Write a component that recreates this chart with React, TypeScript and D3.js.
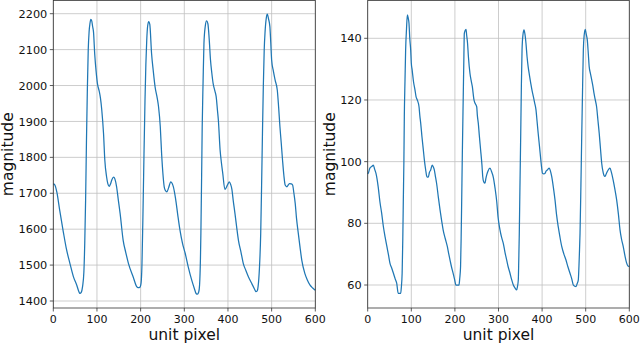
import React from "react";
import * as d3 from "d3";

const xTicks = [0, 100, 200, 300, 400, 500, 600];
const leftYTicks = [1400, 1500, 1600, 1700, 1800, 1900, 2000, 2100, 2200];
const rightYTicks = [60, 80, 100, 120, 140];

const leftSeries: [number, number][] = [[0,1726],[3,1724],[8,1704],[15,1650],[23,1592],[30,1545],[38,1505],[46,1468],[54,1443],[58,1428],[61,1421],[64,1424],[67,1440],[70,1480],[72,1560],[74,1681],[76,1850],[78,1990],[80,2099],[82,2150],[84,2173],[86,2184],[88,2180],[90,2165],[92,2150],[95,2085],[98,2040],[101,2006],[105,1985],[108,1965],[111,1932],[115,1867],[118,1792],[122,1746],[125,1726],[128,1719],[131,1726],[134,1737],[138,1745],[141,1740],[145,1718],[149,1680],[153,1644],[160,1569],[166,1535],[172,1505],[183,1467],[191,1440],[194,1437],[198,1438],[201,1450],[203,1500],[205,1620],[207,1760],[210,1959],[212,2060],[214,2127],[216,2165],[218.5,2178],[221,2170],[225,2090],[229,2040],[233,1997],[238,1965],[241,1941],[245,1885],[248,1811],[251,1755],[254,1718],[257,1707],[260,1704],[264,1715],[269,1732],[272,1728],[275,1718],[280,1685],[285,1640],[290,1598],[296,1560],[302,1533],[309,1495],[317,1458],[323,1435],[327,1421],[330,1419],[333,1425],[335,1445],[337,1520],[338,1589],[340,1780],[341,1885],[343,2010],[345,2117],[348,2165],[351,2180],[354,2172],[357,2130],[360,2071],[363,2035],[366,2006],[370,1985],[373,1969],[376,1930],[378,1904],[382,1820],[385,1785],[388,1756],[393,1711],[397,1718],[400,1726],[403,1732],[406,1725],[409,1711],[412,1680],[416,1644],[420,1605],[424,1569],[430,1535],[435,1505],[441,1485],[447,1467],[453,1452],[458,1440],[462,1430],[464,1426],[467,1428],[469,1440],[472,1490],[475,1589],[477,1720],[479,1867],[481,2000],[483,2099],[485,2150],[488,2190],[490,2199],[493,2185],[496,2164],[498,2120],[500,2071],[504,2040],[508,2015],[513,1987],[516,1940],[519,1885],[522,1840],[525,1792],[528,1750],[531,1723],[535,1718],[538,1723],[541,1727],[545,1726],[548,1723],[551,1700],[554,1672],[557,1630],[561,1589],[565,1550],[569,1514],[576,1477],[582,1458],[588,1444],[594,1436],[600,1430]];

const rightSeries: [number, number][] = [[0,96],[2,96.5],[5,97.9],[10,98.5],[13,98.9],[16,97.5],[19,96.2],[24,91.9],[28,87],[32,83.3],[36,78.9],[40,75.5],[44,72.5],[48,69.5],[51,67.1],[55,65.5],[59,63.8],[63,62],[66.5,60.6],[70,57.3],[75.7,57.3],[77,59],[79,63.8],[80.5,75],[81.7,87.6],[83,100],[84,114.6],[85.5,126],[87,136.2],[89,143],[91,147.6],[93,146.5],[94.7,144.9],[96.5,140],[98.6,136.2],[100,132],[102,129.7],[105,126],[108.5,123.2],[111,121],[113.8,120],[117.7,117.8],[119.5,115],[121.6,112.4],[124.5,108],[127.6,103.8],[130,100.5],[133,97.3],[135,95.5],[136.7,95],[139,95],[141.5,96.5],[144.5,97.3],[148,98.9],[150.5,98.3],[152.8,97.3],[155,95.5],[158,93],[162,88.5],[166,84.3],[170,80.5],[173,77.9],[178,75],[182.6,72.5],[186,70],[188.8,68.1],[192,66],[196,63.8],[199,62],[202.5,60],[209.4,60],[211,62],[213,66],[214.3,75],[215.6,87.6],[217,102],[219,120],[220.5,133],[221.6,141.6],[223.5,142.5],[225.5,142.9],[227,141],[229,138.4],[231,134],[234.6,128.6],[237,126.5],[240,124.3],[243.8,120],[246,119],[250,117.8],[251.5,115],[253.7,112.4],[256,108.5],[259,103.8],[262,99],[263.8,95.2],[266,93.5],[269,93],[271,94.5],[273,95.7],[276,97],[280.5,97.9],[284,96.8],[288,95],[292,91.5],[296,87],[299,82],[303.4,77.9],[307,75.5],[311,73.5],[315,70.5],[318.8,68.1],[322,66],[326.4,63.8],[330,61.8],[334,60],[338,59],[341.7,58.4],[343.5,59.5],[345.4,61.6],[346.5,68],[347.7,76.8],[349,90],[351,109.2],[352.5,125],[354,136.2],[356,141],[358.5,142.7],[360.5,141.5],[363,138.4],[365.5,134],[368,130.8],[371,128],[374,125.4],[377,123],[380,121.1],[383,119],[386,116.8],[388.5,113],[391,109.2],[394,105],[397,100.6],[399,98],[401,96.2],[404,96],[406.7,96.2],[409.5,97],[412,97.3],[416.5,97.9],[419,97],[422,95.2],[426,91.5],[429.6,87.6],[433,83],[437,78.9],[441,75.5],[445,72.5],[450,70],[454.8,68.1],[459,66],[464,63.8],[468,62],[471.6,60],[475,59.6],[477.8,59.5],[480.5,60.5],[483,61.6],[484.5,66],[485.5,70],[487,76.8],[489,92],[491,109.2],[493,125],[494.6,136.2],[496.5,141],[499,142.9],[501,141.5],[503.7,139.4],[506,135],[508,130.8],[511,128.5],[513.8,126.5],[516.5,124.5],[519,122.2],[522,120],[525,117.8],[528,113.5],[531,109.2],[534,104],[536.7,99.5],[540,96.5],[542,95.5],[544,95.2],[547,96],[549.6,96.8],[552.5,97.5],[555.7,97.9],[559,96.5],[563,94],[567,91],[571,87.6],[575,83],[578.7,77.9],[582,75],[586,72.5],[590,69.5],[594,67.1],[598,66],[600,66.2]];

const FONT = "'DejaVu Sans', sans-serif";

type PanelProps = {
  data: [number, number][];
  yTicks: number[];
  x0: number; x1: number;
  yLo: number; yHi: number; pyLo: number; pyHi: number;
  top: number; bottom: number;
  labelX: number;
};

function Panel({ data, yTicks, x0, x1, yLo, yHi, pyLo, pyHi, top, bottom, labelX }: PanelProps) {
  const x = d3.scaleLinear().domain([0, 600]).range([x0, x1]);
  const y = d3.scaleLinear().domain([yLo, yHi]).range([pyLo, pyHi]);
  const line = d3.line<[number, number]>().x(d => x(d[0])).y(d => y(d[1])).curve(d3.curveMonotoneX);
  const cx = (x0 + x1) / 2;
  const cy = (top + bottom) / 2;
  return (
    <g>
      {xTicks.map(t => (
        <line key={"gx" + t} x1={x(t)} x2={x(t)} y1={top} y2={bottom} stroke="#c0c0c0" strokeWidth={0.8} />
      ))}
      {yTicks.map(t => (
        <line key={"gy" + t} x1={x0} x2={x1} y1={y(t)} y2={y(t)} stroke="#c0c0c0" strokeWidth={0.8} />
      ))}
      <path d={line(data) || ""} fill="none" stroke="#1f77b4" strokeWidth={1.25} strokeLinejoin="round" />
      <rect x={x0} y={top} width={x1 - x0} height={bottom - top} fill="none" stroke="#333" strokeWidth={0.8} />
      {xTicks.map(t => (
        <g key={"tx" + t}>
          <line x1={x(t)} x2={x(t)} y1={bottom} y2={bottom + 3.5} stroke="#333" strokeWidth={0.8} />
          <text x={x(t)} y={322.5} textAnchor="middle" fontSize={11} fontFamily={FONT} fill="#111">{t}</text>
        </g>
      ))}
      {yTicks.map(t => (
        <g key={"ty" + t}>
          <line x1={x0 - 3.5} x2={x0} y1={y(t)} y2={y(t)} stroke="#333" strokeWidth={0.8} />
          <text x={x0 - 6} y={y(t)} dy="0.36em" textAnchor="end" fontSize={11.3} fontFamily={FONT} fill="#111">{t}</text>
        </g>
      ))}
      <text x={cx} y={340} textAnchor="middle" fontSize={15.5} fontFamily={FONT} fill="#111">unit pixel</text>
      <text transform={`translate(${labelX},${cy}) rotate(-90)`} textAnchor="middle" fontSize={15.5} fontFamily={FONT} fill="#111">magnitude</text>
    </g>
  );
}

export default function App() {
  return (
    <svg width={640} height={345} style={{ position: "absolute", left: 0, top: 0, background: "#fff" }}>
      <rect width={640} height={345} fill="#fff" />
      <Panel data={leftSeries} yTicks={leftYTicks} x0={53.3} x1={315.3} yLo={1400} yHi={2200} pyLo={301} pyHi={13.7} top={0.5} bottom={308} labelX={12.5} />
      <Panel data={rightSeries} yTicks={rightYTicks} x0={367.7} x1={629.3} yLo={60} yHi={140} pyLo={285} pyHi={38.3} top={0.5} bottom={308} labelX={335} />
    </svg>
  );
}
